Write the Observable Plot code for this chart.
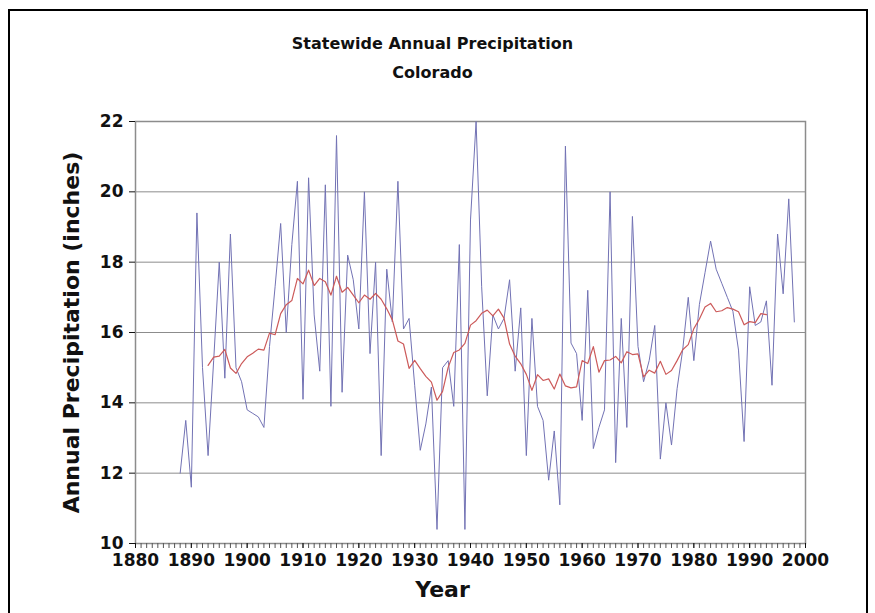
<!DOCTYPE html>
<html>
<head>
<meta charset="utf-8">
<script src="https://cdn.jsdelivr.net/npm/d3@7"></script>
<script src="https://cdn.jsdelivr.net/npm/@observablehq/plot@0.6"></script>
<style>
  html, body { margin: 0; padding: 0; background: #fff; overflow: hidden; }
  #wrap { position: relative; width: 875px; height: 613px; }
  #border { position: absolute; left: 8px; top: 9px; width: 856px; height: 700px; border: 2px solid #000; pointer-events: none; }
</style>
</head>
<body>
<div id="wrap"><div id="border"></div></div>
<script>
// Annual statewide precipitation, Colorado, 1888–1998 (inches)
const firstYear = 1888;
const precip = [
  12.0, 13.5, 11.6, 19.4, 15.0, 12.5, 15.2, 18.0, 14.7, 18.8,   // 1888-1897
  15.0, 14.6, 13.8, 13.7, 13.6, 13.3, 15.6, 17.3, 19.1, 16.0,   // 1898-1907
  18.5, 20.3, 14.1, 20.4, 16.5, 14.9, 20.2, 13.9, 21.6, 14.3,   // 1908-1917
  18.2, 17.5, 16.1, 20.0, 15.4, 18.0, 12.5, 17.8, 16.3, 20.3,   // 1918-1927
  16.1, 16.4, 14.5, 12.65, 13.4, 14.45, 10.4, 15.0, 15.2, 13.9, // 1928-1937
  18.5, 10.4, 19.2, 22.0, 17.3, 14.2, 16.5, 16.1, 16.4, 17.5,   // 1938-1947
  14.9, 16.7, 12.5, 16.4, 13.9, 13.5, 11.8, 13.2, 11.1, 21.3,   // 1948-1957
  15.7, 15.4, 13.5, 17.2, 12.7, 13.3, 13.8, 20.0, 12.3, 16.4,   // 1958-1967
  13.3, 19.3, 15.6, 14.6, 15.2, 16.2, 12.4, 14.0, 12.8, 14.4,   // 1968-1977
  15.5, 17.0, 15.2, 16.8, 17.7, 18.6, 17.8, 17.4, 17.0, 16.6,   // 1978-1987
  15.5, 12.9, 17.3, 16.2, 16.3, 16.9, 14.5, 18.8, 17.1, 19.8,   // 1988-1997
  16.3                                                          // 1998
];
const years = precip.map((_, i) => firstYear + i);
const xTicks = [1880, 1890, 1900, 1910, 1920, 1930, 1940, 1950, 1960, 1970, 1980, 1990, 2000];
const minorXTicks = d3.range(1880, 2001);
const yTicks = [10, 12, 14, 16, 18, 20, 22];
const gridTicks = [12, 14, 16, 18, 20];
const windowSize = 11;

const titleText = "Statewide Annual Precipitation";
const subtitleText = "Colorado";
const yLabel = "Annual Precipitation (inches)";
const xLabel = "Year";

const data = years.map((year, i) => ({year, value: precip[i]}));

const font = "DejaVu Sans";
const chart = Plot.plot({
  width: 875,
  height: 613,
  marginLeft: 135,
  marginRight: 70,
  marginTop: 121,
  marginBottom: 70,
  x: {domain: [1880, 2000]},
  y: {domain: [10, 22]},
  style: {fontFamily: font, background: "transparent", color: "#111"},
  marks: [
    Plot.gridY(gridTicks, {stroke: "#8c8c8c", strokeOpacity: 1, strokeWidth: 1}),
    Plot.frame({stroke: "#8c8c8c", strokeWidth: 1.5}),
    Plot.axisY({ticks: yTicks, tickSize: 6, tickPadding: 6, fontSize: 17, fontWeight: "bold", label: null, tickFormat: d => String(d)}),
    Plot.axisX({ticks: minorXTicks, tickSize: 5, tickFormat: () => "", label: null, stroke: "#555"}),
    Plot.axisX({ticks: xTicks, tickSize: 5, tickPadding: 5, fontSize: 17, fontWeight: "bold", label: null, tickFormat: d => String(d)}),
    Plot.line(data, {x: "year", y: "value", stroke: "#7272b4", strokeWidth: 1}),
    Plot.line(data, Plot.windowY({k: windowSize, anchor: "middle", strict: true}, {x: "year", y: "value", stroke: "#cc5a5a", strokeWidth: 1.2})),
    Plot.text([titleText], {frameAnchor: "top", dx: -38, dy: -78, fontSize: 16, fontWeight: "bold", lineAnchor: "middle", textAnchor: "middle", fill: "#111"}),
    Plot.text([subtitleText], {frameAnchor: "top", dx: -38, dy: -49, fontSize: 16, fontWeight: "bold", lineAnchor: "middle", textAnchor: "middle", fill: "#111"}),
    Plot.text([yLabel], {frameAnchor: "left", dx: -64, rotate: -90, fontSize: 22, fontWeight: "bold", lineAnchor: "middle", textAnchor: "middle", fill: "#111"}),
    Plot.text([xLabel], {frameAnchor: "bottom", dx: -28, dy: 46, fontSize: 22, fontWeight: "bold", lineAnchor: "middle", textAnchor: "middle", fill: "#111"})
  ]
});
document.getElementById("wrap").prepend(chart);
</script>
</body>
</html>
